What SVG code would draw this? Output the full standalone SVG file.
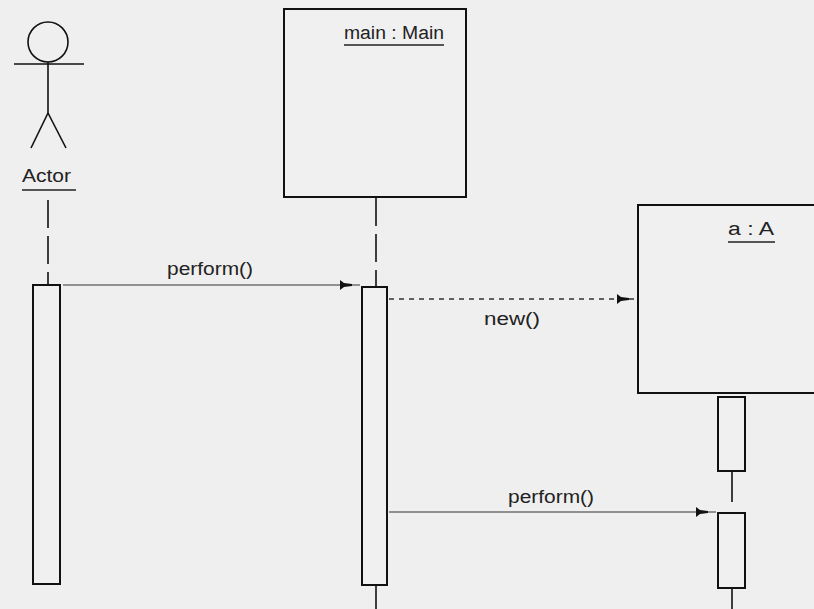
<svg xmlns="http://www.w3.org/2000/svg" width="814" height="609" viewBox="0 0 814 609">
<defs>
<marker id="head" markerUnits="userSpaceOnUse" markerWidth="30" markerHeight="12" refX="20" refY="5" orient="auto">
<path d="M0,0 L4,3 L12,4 L12,6 L4,7 L0,10 Z" fill="#111"/>
</marker>
<style>
.box{fill:#f0f0f0;stroke:#111;stroke-width:2}
.act{fill:#f0f0f0;stroke:#111;stroke-width:2}
.life{stroke:#111;stroke-width:1.6;stroke-dasharray:28 8;fill:none}
.solid{stroke:#111;stroke-width:1.6;fill:none}
.msg{stroke:#333;stroke-width:1.2;fill:none}
.dash{stroke:#333;stroke-width:1.4;stroke-dasharray:5 5;fill:none}
.t{font-family:"Liberation Sans",Arial,sans-serif;font-size:18px;fill:#222}
.u{stroke:#222;stroke-width:1.6}
</style>
</defs>
<rect width="814" height="609" fill="#efefef"/>
<g id="actor">
<circle cx="48" cy="42" r="20" fill="none" stroke="#111" stroke-width="1.6"/>
<line class="solid" x1="14" y1="64" x2="84" y2="64"/>
<line class="solid" x1="48" y1="62" x2="48" y2="113"/>
<line class="solid" x1="48" y1="113" x2="31" y2="148"/>
<line class="solid" x1="48" y1="113" x2="66" y2="148"/>
<text class="t" x="22" y="182" textLength="49" lengthAdjust="spacingAndGlyphs">Actor</text>
<line class="u" x1="22" y1="190" x2="76" y2="190"/>
<line class="life" x1="48" y1="200" x2="48" y2="285"/>
<rect class="act" x="33" y="285" width="27" height="299"/>
</g>
<g id="main">
<rect class="box" x="284" y="9" width="182" height="188"/>
<text class="t" x="344" y="39" textLength="100" lengthAdjust="spacingAndGlyphs">main : Main</text>
<line class="u" x1="344" y1="45" x2="444" y2="45"/>
<line class="life" x1="376" y1="198" x2="376" y2="287"/>
<rect class="act" x="362" y="287" width="25" height="298"/>
<line class="solid" x1="376" y1="586" x2="376" y2="609"/>
</g>
<g id="a">
<rect class="box" x="638" y="205" width="190" height="188"/>
<text class="t" x="728" y="235" textLength="46" lengthAdjust="spacingAndGlyphs">a : A</text>
<line class="u" x1="728" y1="242" x2="775" y2="242"/>
<rect class="act" x="718" y="397" width="27" height="74"/>
<line class="solid" x1="732" y1="471" x2="732" y2="502"/>
<rect class="act" x="718" y="513" width="27" height="75"/>
<line class="solid" x1="732" y1="588" x2="732" y2="609"/>
</g>
<g id="connectors">
<line class="msg" x1="63" y1="285" x2="360" y2="285" marker-end="url(#head)"/>
<text class="t" x="167" y="275" textLength="86" lengthAdjust="spacingAndGlyphs">perform()</text>
<line class="dash" x1="389" y1="299" x2="637" y2="299" marker-end="url(#head)"/>
<text class="t" x="484" y="325" textLength="56" lengthAdjust="spacingAndGlyphs">new()</text>
<line class="msg" x1="389" y1="512" x2="716" y2="512" marker-end="url(#head)"/>
<text class="t" x="508" y="503" textLength="86" lengthAdjust="spacingAndGlyphs">perform()</text>
</g>
</svg>
